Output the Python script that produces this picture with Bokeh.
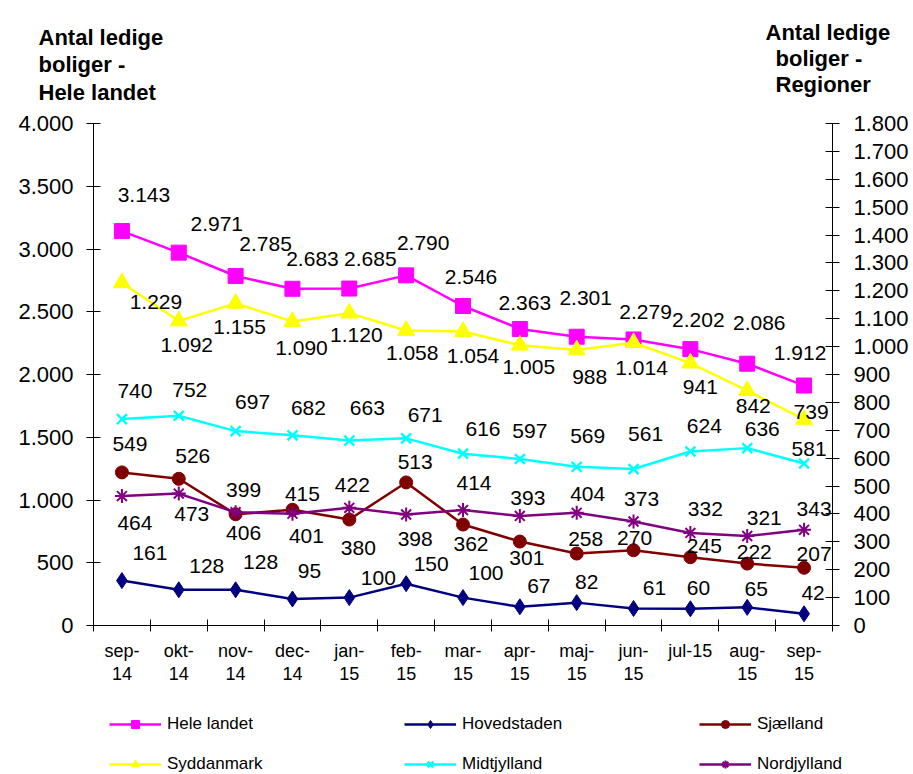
from bokeh.plotting import figure
from bokeh.layouts import column
from bokeh.models import (Range1d, LinearAxis, FixedTicker, ColumnDataSource,
                          Legend, LegendItem)
from bokeh.core.properties import value
from bokeh.embed import file_html
from bokeh.resources import INLINE

# ---------------- data ----------------
months = ["sep-14", "okt-14", "nov-14", "dec-14", "jan-15", "feb-15", "mar-15",
          "apr-15", "maj-15", "jun-15", "jul-15", "aug-15", "sep-15"]
month_tick_labels = ["sep-\n14", "okt-\n14", "nov-\n14", "dec-\n14", "jan-\n15",
                     "feb-\n15", "mar-\n15", "apr-\n15", "maj-\n15", "jun-\n15",
                     "jul-15", "aug-\n15", "sep-\n15"]

hele_landet = [3143, 2971, 2785, 2683, 2685, 2790, 2546, 2363, 2301, 2279, 2202, 2086, 1912]
hovedstaden = [161, 128, 128, 95, 100, 150, 100, 67, 82, 61, 60, 65, 42]
sjaelland = [549, 526, 399, 415, 380, 513, 362, 301, 258, 270, 245, 222, 207]
syddanmark = [1229, 1092, 1155, 1090, 1120, 1058, 1054, 1005, 988, 1014, 941, 842, 739]
midtjylland = [740, 752, 697, 682, 663, 671, 616, 597, 569, 561, 624, 636, 581]
nordjylland = [464, 473, 406, 401, 422, 398, 414, 393, 404, 373, 332, 321, 343]

left_ticks = list(range(0, 4001, 500))
right_ticks = list(range(0, 1801, 100))

left_title = ["Antal ledige", "boliger -", "Hele landet"]
right_title = ["Antal ledige", "boliger -", "Regioner"]


def fmt(v):
    return f"{v:,}".replace(",", ".")


# ---------------- label placement (pixel offsets, style only) ----------------
off_hele = [(22, -36), (38, -29), (30, -32), (20, -30), (21, -30), (17, -32), (8, -29),
            (5, -26), (9, -39), (12, -27), (8, -29), (12, -41), (-4, -33)]
off_sydd = [(34, 19), (8, 24), (4, 24), (9, 26), (7, 22), (6, 23), (10, 24),
            (9, 22), (13, 27), (8, 25), (10, 24), (6, 15), (7, -7)]
off_midt = [(13, -28), (11, -26), (17, -29), (16, -27), (18, -33), (19, -23), (20, -25),
            (10, -28), (11, -31), (12, -35), (14, -25), (15, -19), (5, -14)]
off_sjae = [(8, -28), (14, -23), (8, -24), (10, -16), (9, 28), (9, -20), (8, 19),
            (7, 16), (9, -15), (1, -12), (14, -11), (7, -12), (10, -14)]
off_nord = [(13, 27), (13, 20), (8, 21), (14, 22), (3, -23), (9, 24), (11, -27),
            (8, -18), (11, -19), (8, -22), (15, -24), (17, -18), (10, -21)]
off_hoved = [(28, -28), (28, -24), (25, -28), (17, -28), (29, -20), (25, -20), (23, -25),
             (19, -21), (10, -21), (21, -20), (8, -21), (9, -18), (9, -21)]

FONT = "Liberation Sans"
W = 913
HEADER_H, FOOT_H = 106, 64
TOP_PAD, FH, BOTTOM = 17, 502, 85
FL, FW = 93, 739


def no_align(fig):
    try:
        fig.frame_align = False
    except Exception:
        pass


# ---------------- header with the two axis titles ----------------
hdr = figure(width=W, height=HEADER_H, x_range=Range1d(0, W), y_range=Range1d(HEADER_H, 0),
             min_border=0, x_axis_location=None, y_axis_location=None,
             output_backend="svg", toolbar_location=None)
hdr.outline_line_color = None
hdr.xgrid.visible = False
hdr.ygrid.visible = False
no_align(hdr)
hsrc = ColumnDataSource(dict(
    x=[38, 38, 38, 765, 775, 775],
    y=[37, 64, 92, 32, 58, 84],
    t=left_title + right_title))
hdr.text("x", "y", text="t", source=hsrc, text_font=value(FONT),
         text_font_size=value("22px"), text_font_style="bold",
         text_align="left", text_baseline="alphabetic", text_color="black")

# ---------------- main chart ----------------
p = figure(width=W, height=TOP_PAD + FH + BOTTOM,
           min_border_left=FL, min_border_right=W - FL - FW, min_border_top=TOP_PAD,
           min_border_bottom=BOTTOM,
           x_range=Range1d(-0.5, len(months) - 0.5),
           y_range=Range1d(0, 4000),
           output_backend="svg", toolbar_location=None)
p.extra_y_ranges = {"right": Range1d(0, 1800)}
p.outline_line_color = None
p.xgrid.visible = False
p.ygrid.visible = False
no_align(p)

xa = p.xaxis[0]
xa.ticker = FixedTicker(ticks=list(range(len(months))),
                        minor_ticks=[i - 0.5 for i in range(len(months) + 1)])
xa.major_label_overrides = {i: lab for i, lab in enumerate(month_tick_labels)}
xa.major_tick_in = 0
xa.major_tick_out = 0
xa.minor_tick_in = 6
xa.minor_tick_out = 6
xa.minor_tick_line_color = "black"
xa.axis_line_color = "black"
xa.major_label_standoff = 9
xa.major_label_text_font = FONT
xa.major_label_text_font_size = "18px"
xa.major_label_text_color = "black"
xa.major_label_text_line_height = 1.15

ya = p.yaxis[0]
ya.ticker = FixedTicker(ticks=left_ticks, minor_ticks=[])
ya.major_label_overrides = {t: fmt(t) for t in left_ticks}
ya.major_tick_in = 7
ya.major_tick_out = 7
ya.major_tick_line_color = "black"
ya.axis_line_color = "black"
ya.major_label_standoff = 13
ya.major_label_text_font = FONT
ya.major_label_text_font_size = "22px"
ya.major_label_text_color = "black"

ra = LinearAxis(y_range_name="right",
                ticker=FixedTicker(ticks=right_ticks, minor_ticks=[]))
ra.major_label_overrides = {t: fmt(t) for t in right_ticks}
ra.major_tick_in = 7
ra.major_tick_out = 7
ra.major_tick_line_color = "black"
ra.axis_line_color = "black"
ra.major_label_standoff = 14
ra.major_label_text_font = FONT
ra.major_label_text_font_size = "22px"
ra.major_label_text_color = "black"
p.add_layout(ra, "right")

series = [
    ("Hele landet", hele_landet, "default", "#FF00FF", "square", 15, 1, off_hele),
    ("Syddanmark", syddanmark, "right", "#FFFF00", "triangle", 17, 1, off_sydd),
    ("Hovedstaden", hovedstaden, "right", "#000080", "diamond", 16, 1, off_hoved),
    ("Midtjylland", midtjylland, "right", "#00FFFF", "x", 14, 2.5, off_midt),
    ("Sjælland", sjaelland, "right", "#800000", "circle", 13, 1, off_sjae),
    ("Nordjylland", nordjylland, "right", "#800080", "asterisk", 14, 2, off_nord),
]

label_sources = []
for name, vals, rng, color, marker, size, mlw, offs in series:
    src = ColumnDataSource(dict(
        x=list(range(len(months))), y=vals,
        label=[fmt(v) for v in vals],
        dx=[o[0] for o in offs], dy=[o[1] for o in offs]))
    p.line("x", "y", source=src, y_range_name=rng, line_color=color, line_width=2.5)
    p.scatter("x", "y", source=src, y_range_name=rng, marker=marker, size=size,
              fill_color=color, line_color=color, line_width=mlw)
    label_sources.append((src, rng))

for src, rng in label_sources:
    p.text("x", "y", text="label", source=src, y_range_name=rng,
           x_offset="dx", y_offset="dy",
           text_font=value(FONT), text_font_size=value("21px"),
           text_align="center", text_baseline="middle", text_color="black")

# ---------------- footer with the legend ----------------
ft = figure(width=W, height=FOOT_H, x_range=Range1d(0, W), y_range=Range1d(0, FOOT_H),
            min_border=0, x_axis_location=None, y_axis_location=None,
            output_backend="svg", toolbar_location=None)
ft.outline_line_color = None
ft.xgrid.visible = False
ft.ygrid.visible = False
no_align(ft)

order = ["Hele landet", "Syddanmark", "Hovedstaden", "Midtjylland", "Sjælland", "Nordjylland"]
style = {s[0]: s for s in series}
items = []
for name in order:
    _, _, _, color, marker, size, mlw, _ = style[name]
    # legend-only glyphs, kept outside the footer's visible range
    hidden = ColumnDataSource(dict(x=[-1000, -999], y=[-1000, -1000]))
    lr = ft.line("x", "y", source=hidden, line_color=color, line_width=2.5)
    sr = ft.scatter("x", "y", source=hidden, marker=marker, size=size,
                    fill_color=color, line_color=color, line_width=mlw)
    items.append(LegendItem(label=name, renderers=[lr, sr]))

legend = Legend(items=items, orientation="vertical", nrows=2,
                location=(109, 0),
                glyph_width=52, glyph_height=20, label_standoff=6,
                label_width=217, spacing=20, padding=0, margin=0,
                label_text_font=FONT, label_text_font_size="17px",
                label_text_color="black",
                border_line_color=None, background_fill_alpha=0)
ft.add_layout(legend, "center")

layout = column(hdr, p, ft, spacing=0)
open("out.html", "w").write(file_html(layout, INLINE))
